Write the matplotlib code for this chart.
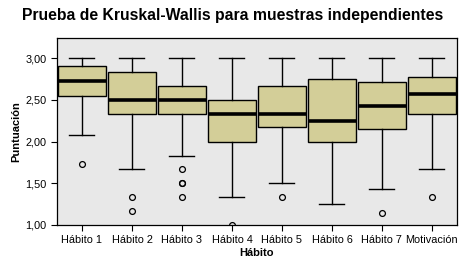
import numpy as np
import matplotlib
matplotlib.use("Agg")
from matplotlib import pyplot as plt

plt.rcParams['font.family'] = ['Liberation Sans', 'DejaVu Sans']

# box plot summary
labels = ["Hábito 1", "Hábito 2", "Hábito 3", "Hábito 4",
          "Hábito 5", "Hábito 6", "Hábito 7", "Motivación"]
med = [2.73, 2.50, 2.50, 2.33, 2.33, 2.25, 2.43, 2.57]
q1 = [2.55, 2.33, 2.33, 2.00, 2.17, 2.00, 2.15, 2.33]
q3 = [2.91, 2.83, 2.67, 2.50, 2.67, 2.75, 2.72, 2.78]
whislo = [2.08, 1.67, 1.83, 1.33, 1.50, 1.25, 1.43, 1.67]
whishi = [3.00, 3.00, 3.00, 3.00, 3.00, 3.00, 3.00, 3.00]
fliers = [[1.73], [1.33, 1.17], [1.67, 1.50, 1.50, 1.33], [1.00],
          [1.33], [], [1.14], [1.33]]

stats = []
for i in range(len(labels)):
    stats.append(dict(label=labels[i], med=med[i], q1=q1[i], q3=q3[i],
                      whislo=whislo[i], whishi=whishi[i], fliers=fliers[i]))

fig = plt.figure(figsize=(4.73, 2.70), dpi=100)
ax = fig.add_axes([0.1205, 0.1667, 0.8455, 0.692])
ax.set_facecolor('#E8E8E8')

ax.bxp(stats, positions=np.arange(len(labels)), widths=0.96,
       patch_artist=True, showfliers=True,
       boxprops=dict(facecolor='#D3CE98', edgecolor='black', linewidth=1.0),
       medianprops=dict(color='black', linewidth=2.6),
       whiskerprops=dict(color='black', linewidth=1.0),
       capprops=dict(color='black', linewidth=1.0),
       capwidths=0.5,
       flierprops=dict(marker='o', markersize=4.2, markerfacecolor='none',
                       markeredgecolor='black', markeredgewidth=0.9))

ax.set_xlim(-0.5, len(labels) - 0.5)
ax.set_ylim(1.0, 3.24)
ax.set_yticks([1.0, 1.5, 2.0, 2.5, 3.0])
ax.set_yticklabels([f"{v:.2f}".replace('.', ',') for v in [1.0, 1.5, 2.0, 2.5, 3.0]])
ax.set_xticks(np.arange(len(labels)))
ax.set_xticklabels(labels)
ax.tick_params(axis='both', labelsize=7.8, length=4, width=0.8, direction='out')
for s in ax.spines.values():
    s.set_linewidth(0.9)

ax.set_xlabel("Hábito", fontsize=8, fontweight='bold', labelpad=2)
ax.set_ylabel("Puntuación", fontsize=8, fontweight='bold', labelpad=3)
fig.suptitle("Prueba de Kruskal-Wallis para muestras independientes",
             fontsize=11.3, fontweight='bold', x=0.492, y=0.97)

fig.savefig("out.png", dpi=100)
